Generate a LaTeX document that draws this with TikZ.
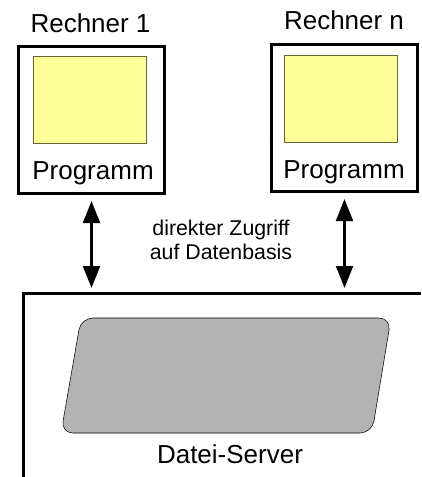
\documentclass[tikz,border=0pt]{standalone}
\usepackage{fontspec}
\setmainfont{Liberation Sans}
\usepackage{tikz}
\usetikzlibrary{arrows.meta,positioning}
\definecolor{bildgelb}{HTML}{FFFF99}
\definecolor{bildgrau}{HTML}{B3B3B3}
\definecolor{bildrand}{HTML}{666633}
\tikzset{
  rechner/.style={rectangle, draw=black, line width=2.25pt, fill=white,
                  minimum width=109.5pt, minimum height=110.25pt, inner sep=0pt},
  schirm/.style={rectangle, draw=bildrand, thin, fill=bildgelb,
                 minimum width=84.5pt, minimum height=65pt, inner sep=0pt},
  gross/.style={font=\fontsize{19.5}{23}\selectfont, inner sep=0pt, anchor=base},
  klein/.style={font=\fontsize{16}{17.5}\selectfont, align=center, inner sep=0pt},
  zugriff/.style={{Triangle[length=16.5pt,width=12.5pt]}-{Triangle[length=16.5pt,width=12.5pt]},
                  line width=2.25pt, shorten <=4.5pt, shorten >=3.75pt},
  server/.style={line width=2.25pt},
  datenbasis/.style={draw=black, thin, fill=bildgrau, rounded corners=9pt},
}
\begin{document}
\begin{tikzpicture}[x=0.75pt, y=-0.75pt]
\useasboundingbox (0,0) rectangle (421,477);

% Rechner
\node[rechner] (rechner1) at (91.5,120) {};
\node[rechner] (rechnern) at (344.5,118) {};
\node[schirm] (schirm1) at (89.5,100) {};
\node[schirm] (schirmn) at (341,98.5) {};
\node[gross] (titel1) at (90.5,33) {Rechner 1};
\node[gross] (titeln) at (344,30) {Rechner n};
\node[gross] (prog1) at (93,180) {Programm};
\node[gross] (progn) at (344,179) {Programm};

% Datei-Server (offener Rahmen)
\draw[server] (421,293) -- (23,293) -- (23,477);
\coordinate (srv1) at (rechner1.south |- 0,293);
\coordinate (srvn) at (rechnern.south |- 0,293);
\draw[datenbasis] (81,318) -- (391,318) -- (372,433) -- (61,433) -- cycle;
\node[gross] (dateiserver) at (230,463) {Datei-Server};

% Zugriff
\draw[zugriff] (rechner1.south) -- (srv1);
\draw[zugriff] (rechnern.south) -- (srvn);
\node[klein] (zugrifftext) at (221,240) {direkter Zugriff\\auf Datenbasis};
\end{tikzpicture}
\end{document}
